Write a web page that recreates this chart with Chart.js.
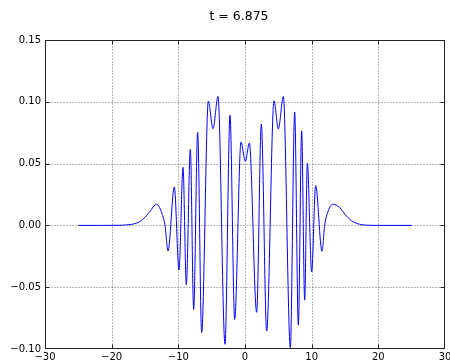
<!DOCTYPE html>
<html>
<head>
<meta charset="utf-8">
<script src="https://cdn.jsdelivr.net/npm/chart.js@4/dist/chart.umd.min.js"></script>
<style>
  html, body { margin: 0; padding: 0; background: #fff; }
  canvas { display: block; }
</style>
</head>
<body>
<canvas id="c" width="450" height="362"></canvas>
<script>
// Wave packet snapshot
const titleText = 't = 6.875';
const xTicks = [-30, -20, -10, 0, 10, 20, 30];
const yTicks = [-0.10, -0.05, 0.00, 0.05, 0.10, 0.15];

// sampled positions (extrema, crossings and tail points)
const xs = [
  -25, -22, -19, -17.8, -16.3, -15.3, -14.3, -13.25, -12.55, -12.0,
  -11.55, -10.6, -9.9, -9.3, -8.8, -8.2, -7.7, -7.1, -6.5, -5.5,
  -4.8, -4.05, -3.0, -2.25, -1.55, -0.6, 0.05, 0.65, 1.75, 2.45,
  3.25, 4.35, 5.0, 5.75, 6.8, 7.45, 8.0, 8.5, 8.95, 9.35,
  10.0, 10.6, 11.55, 11.95, 12.5, 13.2, 14.2, 15.2, 16.2, 17.2,
  18.2, 20, 25
];
const ys = [
  0.0, 0.0, 0.0001, 0.0004, 0.0018, 0.005, 0.011, 0.0171, 0.011, 0.0,
  -0.0207, 0.0311, -0.036, 0.047, -0.048, 0.0615, -0.068, 0.0752, -0.0867, 0.1005,
  0.0782, 0.1043, -0.0962, 0.089, -0.076, 0.0674, 0.0518, 0.0667, -0.0703, 0.082,
  -0.0855, 0.1008, 0.078, 0.1043, -0.0988, 0.0918, -0.0807, 0.0765, -0.0605, 0.0503,
  -0.0375, 0.0322, -0.021, 0.0, 0.012, 0.0171, 0.0144, 0.0076, 0.003, 0.0009,
  0.0002, 0.0, 0.0
];

const points = xs.map((x, i) => ({ x: x, y: ys[i] }));
const FONT = "'DejaVu Sans', 'Liberation Sans', sans-serif";
const fmt = (s) => s.replace('-', '\u2212');

// dotted grid under the curve, frame + inward ticks above it, title on top
function box(a) {
  return {
    L: Math.round(a.left) + 0.5, R: Math.round(a.right) - 0.5,
    T: Math.round(a.top) + 0.5, B: Math.round(a.bottom) - 0.5
  };
}
const clamp = (v, lo, hi) => Math.min(hi, Math.max(lo, v));

const framePlugin = {
  id: 'frame',
  beforeDatasetsDraw(chart) {
    const { ctx, chartArea: a, scales: { x, y } } = chart;
    const { L, R, T, B } = box(a);
    ctx.save();
    ctx.strokeStyle = 'rgba(0,0,0,0.55)';
    ctx.lineWidth = 1;
    ctx.setLineDash([1, 2]);
    xTicks.forEach(v => {
      const px = Math.round(x.getPixelForValue(v)) + 0.5;
      if (px <= L || px >= R) return;
      ctx.beginPath(); ctx.moveTo(px, T); ctx.lineTo(px, B); ctx.stroke();
    });
    yTicks.forEach(v => {
      const py = Math.round(y.getPixelForValue(v)) + 0.5;
      if (py <= T || py >= B) return;
      ctx.beginPath(); ctx.moveTo(L, py); ctx.lineTo(R, py); ctx.stroke();
    });
    ctx.restore();
  },
  afterDatasetsDraw(chart) {
    const { ctx, chartArea: a, scales: { x, y } } = chart;
    const { L, R, T, B } = box(a);
    ctx.save();
    ctx.strokeStyle = '#222';
    ctx.lineWidth = 1;
    ctx.setLineDash([]);
    ctx.strokeRect(L, T, R - L, B - T);
    const len = 4;
    xTicks.forEach(v => {
      const px = clamp(Math.round(x.getPixelForValue(v)) + 0.5, L, R);
      ctx.beginPath();
      ctx.moveTo(px, B); ctx.lineTo(px, B - len);
      ctx.moveTo(px, T); ctx.lineTo(px, T + len);
      ctx.stroke();
    });
    yTicks.forEach(v => {
      const py = clamp(Math.round(y.getPixelForValue(v)) + 0.5, T, B);
      ctx.beginPath();
      ctx.moveTo(L, py); ctx.lineTo(L + len, py);
      ctx.moveTo(R, py); ctx.lineTo(R - len, py);
      ctx.stroke();
    });
    ctx.fillStyle = '#000';
    ctx.font = '12.5px ' + FONT;
    ctx.textAlign = 'center';
    ctx.textBaseline = 'alphabetic';
    ctx.fillText(titleText, 239, 19.5);
    ctx.restore();
  }
};

new Chart(document.getElementById('c'), {
  type: 'line',
  data: {
    datasets: [{
      data: points,
      borderColor: 'rgb(0,0,255)',
      borderWidth: 1,
      pointRadius: 0,
      fill: false,
      cubicInterpolationMode: 'monotone'
    }]
  },
  options: {
    responsive: false,
    animation: false,
    devicePixelRatio: 1,
    layout: { padding: { top: 40, right: 5, left: 0, bottom: 0 } },
    plugins: { legend: { display: false }, tooltip: { enabled: false }, title: { display: false } },
    scales: {
      x: {
        type: 'linear',
        min: -30, max: 30,
        grid: { display: false, drawTicks: false, tickLength: 0 },
        border: { display: false },
        afterBuildTicks: (s) => { s.ticks = xTicks.map(v => ({ value: v })); },
        afterFit: (s) => { s.height = 13; s.paddingLeft = 0; s.paddingRight = 0; },
        ticks: {
          autoSkip: false, maxRotation: 0, minRotation: 0, padding: 2,
          color: '#000', font: { family: FONT, size: 10 },
          callback: (v) => fmt(String(v))
        }
      },
      y: {
        type: 'linear',
        min: -0.10, max: 0.15,
        grid: { display: false, drawTicks: false, tickLength: 0 },
        border: { display: false },
        afterBuildTicks: (s) => { s.ticks = yTicks.map(v => ({ value: v })); },
        afterFit: (s) => { s.width = 45; s.paddingTop = 0; s.paddingBottom = 0; },
        ticks: {
          autoSkip: false, padding: 4,
          color: '#000', font: { family: FONT, size: 10 },
          callback: (v) => fmt(Number(v).toFixed(2))
        }
      }
    }
  },
  plugins: [framePlugin]
});
</script>
</body>
</html>
